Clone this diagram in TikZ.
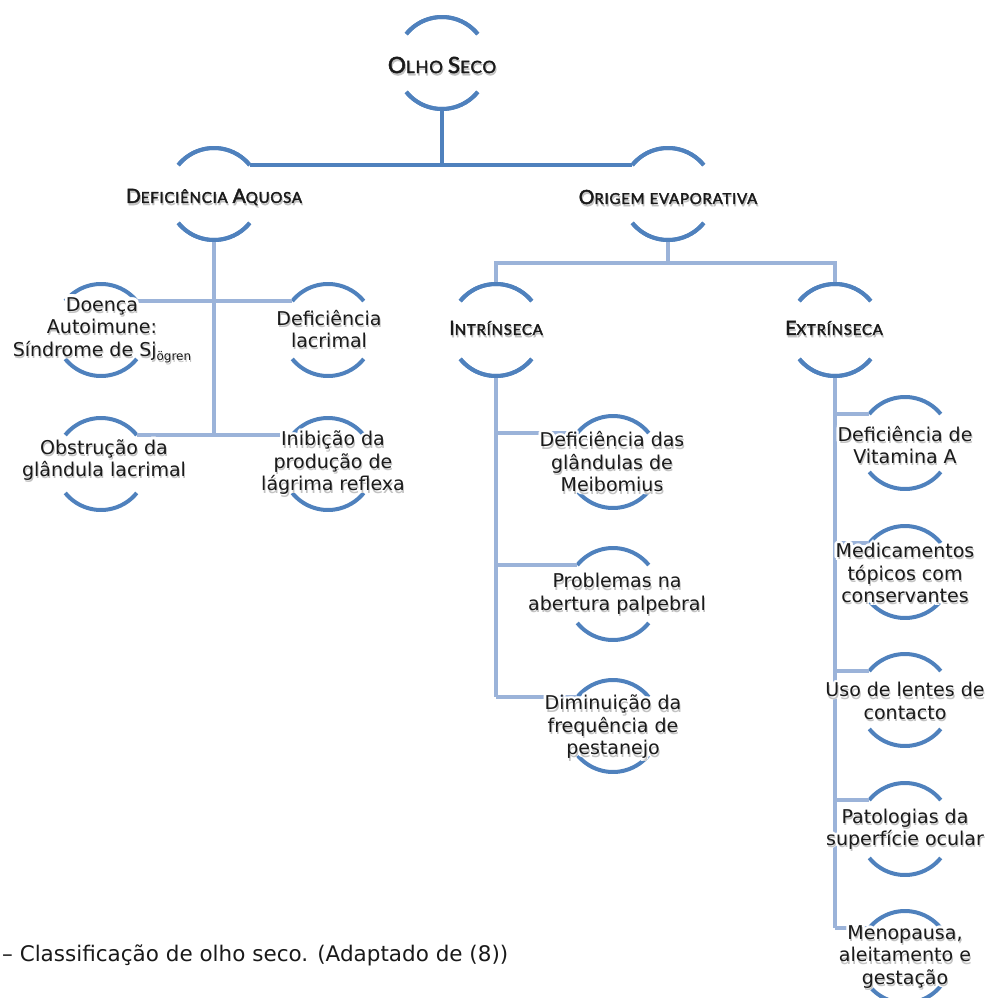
\documentclass[tikz,border=0pt]{standalone}
\usepackage{fontspec}
\setmainfont{DejaVu Sans}
\newfontfamily\hdfont{Lato}[FakeBold=2.2,LetterSpace=5]
\usetikzlibrary{calc}
\definecolor{arcblue}{HTML}{4F81BD}
\definecolor{lineblue}{HTML}{9BB3D9}
\definecolor{txtc}{HTML}{1A1A1A}
\tikzset{
 arcst/.style={draw=arcblue,line width=4pt},
 darkline/.style={draw=arcblue,line width=4pt},
 lightline/.style={draw=lineblue,line width=4pt},
 bodytxt/.style={align=center,inner sep=0pt,text=txtc,font=\fontsize{19}{22.5}\selectfont},
 headtxt/.style={inner sep=0pt,text=txtc,font=\hdfont},
}
\newcommand\ring[3]{%
 \coordinate (#1) at (#2,#3);
 \draw[arcst] (#1) ++(141:46pt) arc[start angle=141,end angle=39,radius=46pt];
 \draw[arcst] (#1) ++(219:46pt) arc[start angle=219,end angle=321,radius=46pt];
 \coordinate (#1-tl) at ($(#1)+(141:46pt)$);
 \coordinate (#1-tr) at ($(#1)+(39:46pt)$);
 \coordinate (#1-t) at ($(#1)+(0,46pt)$);
 \coordinate (#1-b) at ($(#1)+(0,-46pt)$);
}
\newcommand\glow[4]{%
 \foreach \ang in {0,30,...,330}{\node[#1,text=white] at ([shift={(\ang:2.8pt)}]#3) {#4};}
 \node[#1,text=black!24] at ([shift={(1pt,-2.2pt)}]#3) {#4};
 \node[#1] (#2) at (#3) {#4};
}
\newcommand\hsc[2]{{\fontsize{19.5}{19.5}\selectfont #1}{\fontsize{15}{15}\selectfont #2}}
\newcommand\hscL[2]{{\fontsize{22.5}{22.5}\selectfont #1}{\fontsize{17}{17}\selectfont #2}}
\newcommand\wsp{\hspace{5pt}}
\begin{document}
\begin{tikzpicture}[x=1pt,y=1pt]
\useasboundingbox (0,0) rectangle (988,-998);
% rings
\ring{OS}{442}{-63}
\ring{DA}{214}{-194}
\ring{OE}{668}{-194}
\ring{IN}{496}{-330}
\ring{EX}{835}{-330}
\ring{Do}{101}{-330}
\ring{DL}{328}{-330}
\ring{OB}{101}{-464}
\ring{IB}{328}{-464}
\ring{I1}{613}{-462}
\ring{I2}{613}{-594}
\ring{I3}{613}{-726}
\ring{E1}{905}{-443}
\ring{E2}{905}{-572}
\ring{E3}{905}{-700}
\ring{E4}{905}{-829}
\ring{E5}{905}{-957}
% connectors
\draw[darkline] (OS-b) -- (OS-b |- DA-tr);
\draw[darkline] (DA-tr) -- (OE-tl);
\draw[lightline] (DA-b) -- (DA-b |- OB-tr);
\draw[lightline] (Do-tr) -- (DL-tl);
\draw[lightline] (OB-tr) -- (IB-tl);
\coordinate (OEj) at (668,-263);
\draw[lightline] (OE-b) -- (OEj);
\draw[lightline] (IN-t) |- (OEj) -| (EX-t);
\draw[lightline] (IN-b) -- (IN-b |- I3-tl);
\foreach \k in {I1,I2,I3}{\draw[lightline] (IN-b |- \k-tl) -- (\k-tl);}
\draw[lightline] (EX-b) -- (EX-b |- E5-tl);
\foreach \k in {E1,E2,E3,E4,E5}{\draw[lightline] (EX-b |- \k-tl) -- (\k-tl);}
% redraw arcs over connectors
\ring{OS}{442}{-63}
\ring{DA}{214}{-194}
\ring{OE}{668}{-194}
\ring{IN}{496}{-330}
\ring{EX}{835}{-330}
% texts
\glow{headtxt}{tOS}{442,-65}{\hscL{O}{LHO}\wsp\hscL{S}{ECO}}
\glow{headtxt}{tDA}{214,-197}{\hsc{D}{EFICIÊNCIA}\wsp\hsc{A}{QUOSA}}
\glow{headtxt}{tOE}{668,-197}{\hsc{O}{RIGEM}\wsp\hsc{}{EVAPORATIVA}}
\glow{headtxt}{tIN}{496,-328}{\hsc{I}{NTRÍNSECA}}
\glow{headtxt}{tEX}{834,-328}{\hsc{E}{XTRÍNSECA}}
\glow{bodytxt}{tDo}{102,-330}{Doença\\Autoimune:\\Síndrome de Sj\raisebox{-4pt}{\fontsize{12}{12}\selectfont ögren}}
\glow{bodytxt}{tDL}{329,-329}{Deficiência\\lacrimal}
\glow{bodytxt}{tOB}{104,-460}{Obstrução da\\glândula lacrimal}
\glow{bodytxt}{tIB}{333,-463}{Inibição da\\produção de\\lágrima reflexa}
\glow{bodytxt}{tI1}{612,-462}{Deficiência das\\glândulas de\\Meibomius}
\glow{bodytxt}{tI2}{617,-594}{Problemas na\\abertura palpebral}
\glow{bodytxt}{tI3}{613,-727}{Diminuição da\\frequência de\\pestanejo}
\glow{bodytxt}{tE1}{905,-445}{Deficiência de\\Vitamina A}
\glow{bodytxt}{tE2}{905,-573}{Medicamentos\\tópicos com\\conservantes}
\glow{bodytxt}{tE3}{905,-701}{Uso de lentes de\\contacto}
\glow{bodytxt}{tE4}{905,-829}{Patologias da\\superfície ocular}
\glow{bodytxt}{tE5}{905,-957}{Menopausa,\\aleitamento e\\gestação}
\node[anchor=west,inner sep=0pt,text=txtc,font=\fontsize{21.5}{26}\selectfont] (cap) at (2,-955) {– Classificação de olho seco. (Adaptado de (8))};
\end{tikzpicture}
\end{document}
